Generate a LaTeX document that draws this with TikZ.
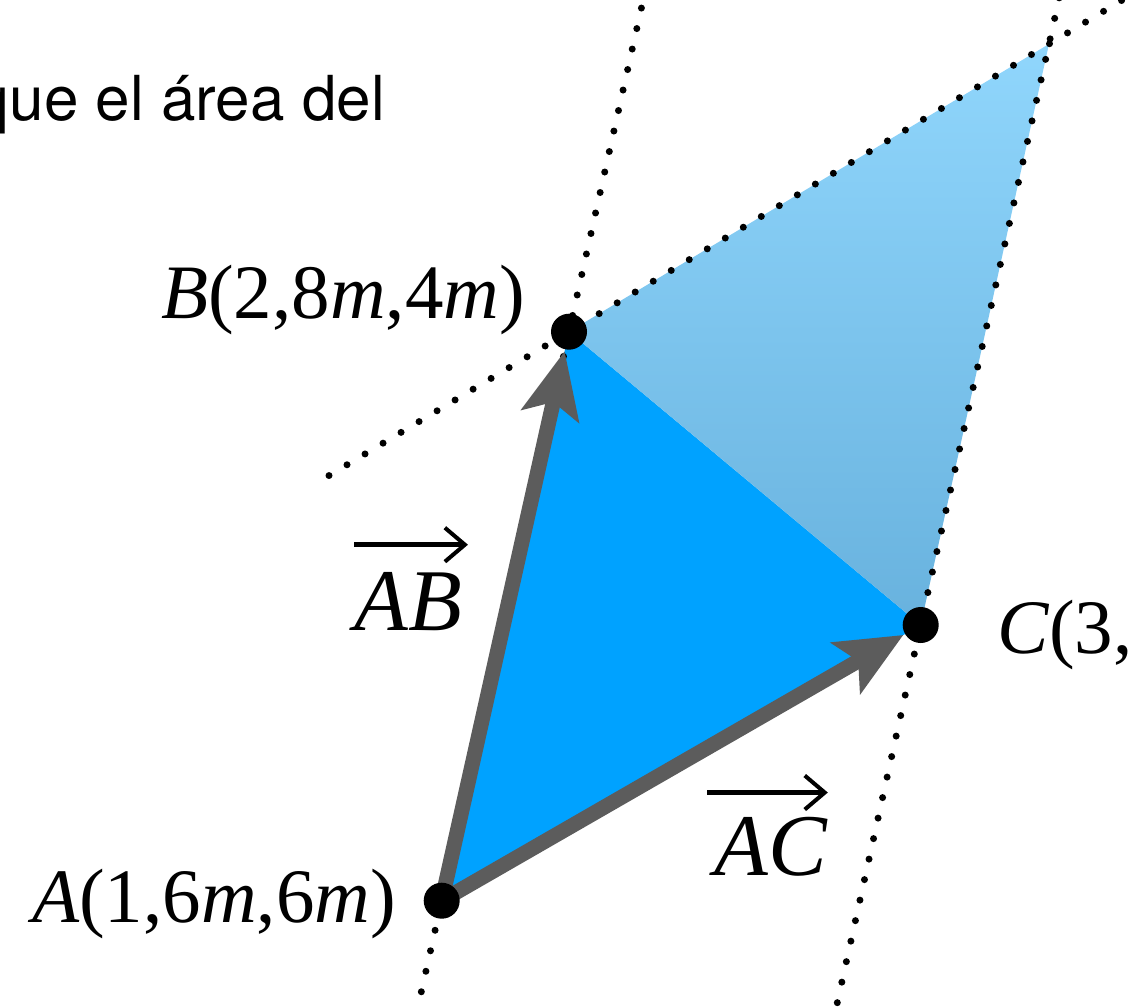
\documentclass[tikz,border=0pt]{standalone}
\usepackage{fontspec}
\setmainfont{Liberation Serif}
\newfontfamily\helv{TeX Gyre Heros}
\usetikzlibrary{arrows.meta,calc}
\definecolor{mainblue}{RGB}{0,162,255}
\definecolor{lighttop}{RGB}{144,214,252}
\definecolor{lightbot}{RGB}{104,178,222}
\definecolor{vecgray}{RGB}{92,92,92}
\tikzset{
  vec/.style={draw=vecgray, line width=15pt, shorten >=20pt,
    -{Stealth[length=66pt, width=58pt, inset=14pt]}},
  dotline/.style={draw=black, line width=7pt, line cap=round, dash pattern=on 0pt off 21pt},
  ptdot/.style={circle, fill=black, inner sep=0pt, minimum size=36pt},
  ptlabel/.style={font=\fontsize{77}{80}\selectfont, inner sep=0pt},
  veclabel/.style={font=\fontsize{88}{92}\selectfont, inner sep=0pt},
  overarrow/.style={draw=black, line width=4.5pt, -{Straight Barb[length=20pt, width=34pt, line width=4pt]}},
}
\begin{document}
\begin{tikzpicture}[x=1pt,y=-1pt]
\useasboundingbox (0,0) rectangle (1130,1007);
\clip (0,0) rectangle (1130,1007);
\coordinate (A) at (441.7,900.7);
\coordinate (B) at (569,331.7);
\coordinate (C) at (920.7,625);
\coordinate (D) at (1049,44);
% fills
\fill[mainblue] (A) -- (B) -- (C) -- cycle;
\shade[top color=lighttop, bottom color=lightbot] (B) -- (D) -- (C) -- cycle;
% dotted lines
\coordinate (ab1) at ($(A)!-0.16!(B)$);
\coordinate (ab2) at ($(A)!1.6!(B)$);
\coordinate (cd1) at ($(C)!-0.65!(D)$);
\coordinate (cd2) at ($(C)!1.1!(D)$);
\coordinate (bd1) at ($(B)!-0.5!(D)$);
\coordinate (bd2) at ($(B)!1.2!(D)$);
\draw[dotline] (ab1) -- (ab2);
\draw[dotline] (cd1) -- (cd2);
\draw[dotline] (bd1) -- (bd2);
% vectors
\draw[vec] (A) -- (B);
\draw[vec] (A) -- (C);
% points
\node[ptdot] (a) at (A) {};
\node[ptdot] (b) at (B) {};
\node[ptdot] (c) at (C) {};
% labels
\node[ptlabel, anchor=base east] (la) at (396,922) {\textit{A}(1,6\textit{m},6\textit{m})};
\node[ptlabel, anchor=base east] (lb) at (525,318) {\textit{B}(2,8\textit{m},4\textit{m})};
\node[ptlabel, anchor=base west] (lc) at (997,653) {\textit{C}(3,};
\node[veclabel, anchor=base] (lab) at (408,630) {\textit{AB}};
\node[veclabel, anchor=base] (lac) at (771,875) {\textit{AC}};
\draw[overarrow] ([shift={(0,-27)}]lab.north west) -- ([shift={(6,-27)}]lab.north east);
\draw[overarrow] ([shift={(-7,-24)}]lac.north west) -- ([shift={(0,-24)}]lac.north east);
\node[font=\helv\fontsize{62}{66}\selectfont, inner sep=0pt, anchor=base east] (title) at (385,120) {que el área del};
\end{tikzpicture}
\end{document}
